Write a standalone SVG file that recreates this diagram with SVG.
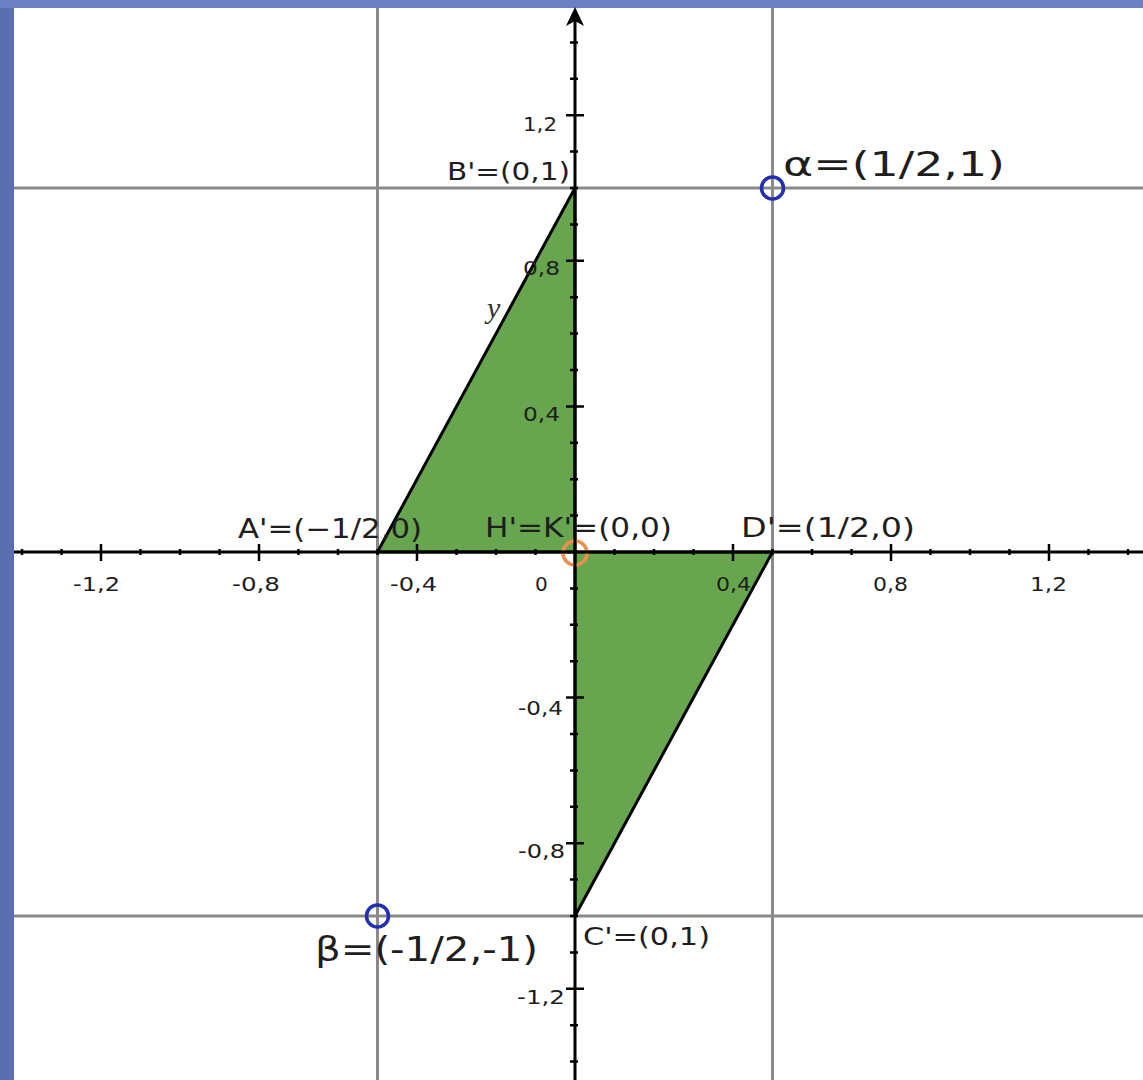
<svg xmlns="http://www.w3.org/2000/svg" width="1143" height="1080" viewBox="0 0 1143 1080">
<style>
.grid{stroke:#8a8a8a;stroke-width:3;fill:none}
.axis{stroke:#000;stroke-width:3;fill:none}
.tick{stroke:#000;stroke-width:2.5;fill:none}
.tri{fill:#68a54f;stroke:#000;stroke-width:3;stroke-linejoin:round}
.lbl{font-family:"DejaVu Sans","Liberation Sans",sans-serif;fill:#1e1e1e}
.num{font-family:"DejaVu Sans","Liberation Sans",sans-serif;font-size:20px;fill:#1e1e1e}
.pt{fill:none;stroke:#2230b0;stroke-width:3.5}
</style>
<rect x="0" y="0" width="1143" height="1080" fill="#ffffff"/>
<g id="frame">
<rect x="0" y="0" width="14" height="1080" fill="#5a6fb0"/>
<rect x="0" y="0" width="1143" height="8" fill="#6b7fc3"/>
</g>
<g id="gridlines">
<line class="grid" x1="377.5" y1="8" x2="377.5" y2="1080"/>
<line class="grid" x1="772.5" y1="8" x2="772.5" y2="1080"/>
<line class="grid" x1="14" y1="188" x2="1143" y2="188"/>
<line class="grid" x1="14" y1="916" x2="1143" y2="916"/>
</g>
<g id="triangle-upper"><polygon class="tri" points="377.5,552 575,188 575,552"/></g>
<g id="triangle-lower"><polygon class="tri" points="575,552 772.5,552 575,916"/></g>
<g id="origin-point"><circle cx="575" cy="553" r="12" fill="none" stroke="#ec8f4e" stroke-width="3.5"/></g>
<g id="axes">
<line class="axis" x1="14" y1="552" x2="1143" y2="552"/>
<line class="axis" x1="575" y1="18" x2="575" y2="1080"/>
<path d="M575,7 L566,26 L575,21 L584,26 Z" fill="#000"/>
<path class="tick" d="M22,549V555M61.5,549V555M140.5,549V555M180,549V555M219.5,549V555M298.5,549V555M338,549V555M377.5,549V555M456.5,549V555M496,549V555M535.5,549V555M614.5,549V555M654,549V555M693.5,549V555M772.5,549V555M812,549V555M851.5,549V555M930.5,549V555M970,549V555M1009.5,549V555M1088.5,549V555M1128,549V555"/>
<path class="tick" d="M101,544V561M259,544V561M417,544V561M733,544V561M891,544V561M1049,544V561"/>
<path class="tick" d="M570,42.4H578M570,78.8H578M570,151.6H578M570,188H578M570,224.4H578M570,297.2H578M570,333.6H578M570,370H578M570,442.8H578M570,479.2H578M570,515.6H578M570,588.4H578M570,624.8H578M570,661.2H578M570,734H578M570,770.4H578M570,806.8H578M570,879.6H578M570,916H578M570,952.4H578M570,1025.2H578M570,1061.6H578"/>
<path class="tick" d="M566,115.2H584M566,260.8H584M566,406.4H584M566,697.6H584M566,843.2H584M566,988.8H584"/>
</g>
<g id="axis-labels">
<text class="num" x="523" y="131" textLength="34" lengthAdjust="spacingAndGlyphs">1,2</text>
<text class="num" x="523" y="275" textLength="37" lengthAdjust="spacingAndGlyphs">0,8</text>
<text class="num" x="523" y="421" textLength="37" lengthAdjust="spacingAndGlyphs">0,4</text>
<text class="num" x="518" y="715" textLength="45" lengthAdjust="spacingAndGlyphs">-0,4</text>
<text class="num" x="518" y="858" textLength="47" lengthAdjust="spacingAndGlyphs">-0,8</text>
<text class="num" x="517" y="1004" textLength="48" lengthAdjust="spacingAndGlyphs">-1,2</text>
<text class="num" x="73" y="591" textLength="47" lengthAdjust="spacingAndGlyphs">-1,2</text>
<text class="num" x="232" y="591" textLength="48" lengthAdjust="spacingAndGlyphs">-0,8</text>
<text class="num" x="390" y="591" textLength="47" lengthAdjust="spacingAndGlyphs">-0,4</text>
<text class="num" x="535" y="591">0</text>
<text class="num" x="716" y="591" textLength="35" lengthAdjust="spacingAndGlyphs">0,4</text>
<text class="num" x="873" y="591" textLength="35" lengthAdjust="spacingAndGlyphs">0,8</text>
<text class="num" x="1030" y="591" textLength="37" lengthAdjust="spacingAndGlyphs">1,2</text>
</g>
<g id="label-y"><text x="487" y="318" font-family="'Liberation Serif',serif" font-style="italic" font-size="30" fill="#333">y</text></g>
<g id="point-B"><text class="lbl" x="447" y="180" font-size="25" textLength="123" lengthAdjust="spacingAndGlyphs">B'=(0,1)</text></g>
<g id="point-A"><text class="lbl" x="238" y="538" font-size="27" textLength="184" lengthAdjust="spacingAndGlyphs">A'=(−1/2,0)</text></g>
<g id="point-HK"><text class="lbl" x="485" y="537" font-size="27" textLength="187" lengthAdjust="spacingAndGlyphs">H'=K'=(0,0)</text></g>
<g id="point-D"><text class="lbl" x="741" y="537" font-size="27" textLength="174" lengthAdjust="spacingAndGlyphs">D'=(1/2,0)</text></g>
<g id="point-C"><text class="lbl" x="583" y="945" font-size="25" textLength="127" lengthAdjust="spacingAndGlyphs">C'=(0,1)</text></g>
<g id="point-alpha">
<circle class="pt" cx="772.5" cy="188" r="11"/>
<text class="lbl" x="783" y="176" font-size="34" textLength="222" lengthAdjust="spacingAndGlyphs">α=(1/2,1)</text>
</g>
<g id="point-beta">
<circle class="pt" cx="377.5" cy="916" r="11"/>
<text class="lbl" x="315" y="961" font-size="34" textLength="223" lengthAdjust="spacingAndGlyphs">β=(-1/2,-1)</text>
</g>
</svg>
